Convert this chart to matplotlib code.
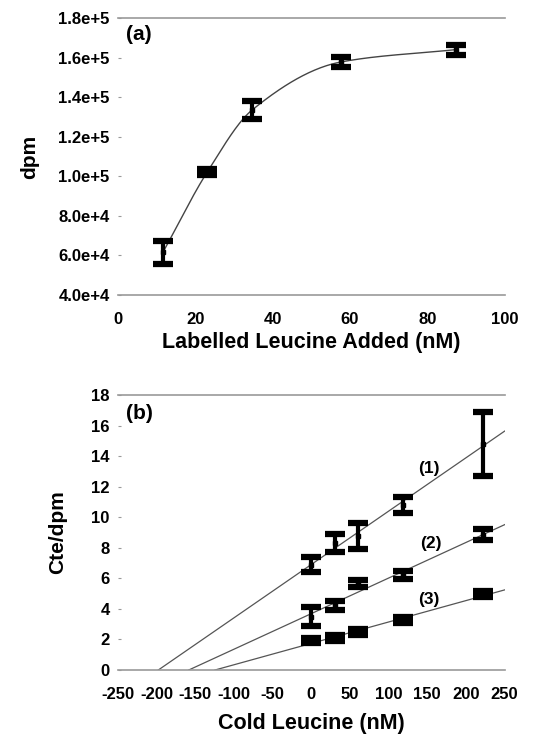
import numpy as np
import matplotlib
matplotlib.use("Agg")
import matplotlib.pyplot as plt

plt.rcParams['font.family'] = ['Liberation Sans', 'DejaVu Sans']
plt.rcParams['axes.unicode_minus'] = False

# ---- Panel (a) data ----
a_x = [11.6, 23.1, 34.7, 57.8, 87.4]
a_y = [6.15e4, 1.022e5, 1.335e5, 1.578e5, 1.640e5]
a_err = [6.0e3, 1.5e3, 4.5e3, 2.5e3, 2.5e3]
a_yticks = [4.0e4, 6.0e4, 8.0e4, 1.0e5, 1.2e5, 1.4e5, 1.6e5, 1.8e5]
a_yticklabels = ['4.0e+4', '6.0e+4', '8.0e+4', '1.0e+5', '1.2e+5', '1.4e+5', '1.6e+5', '1.8e+5']
a_xticks = [0, 20, 40, 60, 80, 100]

# ---- Panel (b) data ----
b_x = [0, 30, 60, 118, 222]
b_y1 = [6.9, 8.3, 8.75, 10.8, 14.8]
b_e1 = [0.5, 0.6, 0.85, 0.55, 2.1]
b_y2 = [3.5, 4.25, 5.67, 6.2, 8.85]
b_e2 = [0.6, 0.3, 0.25, 0.25, 0.35]
b_y3 = [1.92, 2.1, 2.5, 3.27, 4.95]
b_e3 = [0.15, 0.2, 0.2, 0.2, 0.2]
b_labels = ['(1)', '(2)', '(3)']
b_xticks = [-250, -200, -150, -100, -50, 0, 50, 100, 150, 200, 250]
b_yticks = [0, 2, 4, 6, 8, 10, 12, 14, 16, 18]


def pchip(x, y, xs):
    x = np.asarray(x, float); y = np.asarray(y, float)
    h = np.diff(x); d = np.diff(y) / h
    m = np.zeros_like(y)
    for k in range(1, len(x) - 1):
        if d[k - 1] * d[k] > 0:
            w1 = 2 * h[k] + h[k - 1]; w2 = h[k] + 2 * h[k - 1]
            m[k] = (w1 + w2) / (w1 / d[k - 1] + w2 / d[k])
    m[0] = d[0]; m[-1] = d[-1]
    out = np.empty_like(xs)
    for i, xv in enumerate(xs):
        k = min(np.searchsorted(x, xv) - 1, len(x) - 2); k = max(k, 0)
        t = (xv - x[k]) / h[k]
        h00 = 2*t**3 - 3*t**2 + 1; h10 = t**3 - 2*t**2 + t
        h01 = -2*t**3 + 3*t**2; h11 = t**3 - t**2
        out[i] = h00*y[k] + h10*h[k]*m[k] + h01*y[k+1] + h11*h[k]*m[k+1]
    return out


fig = plt.figure(figsize=(5.4, 7.35), dpi=100)

err_kw = dict(fmt='none', ecolor='black', elinewidth=3, capsize=7, capthick=4.5, zorder=3)

# ---- Panel (a) ----
ax1 = fig.add_axes([0.2185, 0.5986, 0.716, 0.377])
xs = np.linspace(a_x[0], a_x[-1], 200)
ax1.plot(xs, pchip(a_x, a_y, xs), color='#444444', lw=1.0, zorder=2)
ax1.errorbar(a_x, a_y, yerr=a_err, **err_kw)
ax1.plot(a_x, a_y, 's', color='black', ms=3, zorder=4)
ax1.set_xlim(0, 100)
ax1.set_ylim(4.0e4, 1.8e5)
ax1.set_yticks(a_yticks)
ax1.set_yticklabels(a_yticklabels)
ax1.set_xticks(a_xticks)
ax1.set_xlabel('Labelled Leucine Added (nM)', fontsize=15.5, fontweight='bold', labelpad=4)
ax1.set_ylabel('dpm', fontsize=15, fontweight='bold', labelpad=14)
ax1.text(2.0, 1.714e5, '(a)', fontsize=15, fontweight='bold', va='center', ha='left')

# ---- Panel (b) ----
ax2 = fig.add_axes([0.2185, 0.0884, 0.716, 0.3742])
for ys, es in ((b_y1, b_e1), (b_y2, b_e2), (b_y3, b_e3)):
    slope, icpt = np.polyfit(b_x, ys, 1)
    x0 = -icpt / slope
    xl = np.array([x0, 250])
    ax2.plot(xl, slope * xl + icpt, color='#555555', lw=0.9, zorder=2)
    ax2.errorbar(b_x, ys, yerr=es, **err_kw)
    ax2.plot(b_x, ys, 's', color='black', ms=3, zorder=4)
ax2.text(152, 13.2, b_labels[0], fontsize=12.5, fontweight='bold', ha='center', va='center')
ax2.text(154, 8.3, b_labels[1], fontsize=12.5, fontweight='bold', ha='center', va='center')
ax2.text(152, 4.6, b_labels[2], fontsize=12.5, fontweight='bold', ha='center', va='center')
ax2.text(-240, 16.8, '(b)', fontsize=15, fontweight='bold', va='center', ha='left')
ax2.set_xlim(-250, 250)
ax2.set_ylim(0, 18)
ax2.set_xticks(b_xticks)
ax2.set_yticks(b_yticks)
ax2.set_xlabel('Cold Leucine (nM)', fontsize=15.5, fontweight='bold', labelpad=8)
ax2.set_ylabel('Cte/dpm', fontsize=15, fontweight='bold', labelpad=17)

for ax in (ax1, ax2):
    ax.spines['left'].set_visible(False)
    ax.spines['right'].set_visible(False)
    ax.spines['top'].set_color('#999999')
    ax.spines['bottom'].set_color('#999999')
    ax.spines['top'].set_linewidth(1.2)
    ax.spines['bottom'].set_linewidth(1.2)
    ax.tick_params(axis='x', length=0, labelsize=12, pad=12)
    ax.tick_params(axis='y', length=2, color='#999999', direction='in', labelsize=12, pad=6)
    for lab in ax.get_xticklabels() + ax.get_yticklabels():
        lab.set_fontweight('bold')

fig.savefig('out.png', dpi=100)
